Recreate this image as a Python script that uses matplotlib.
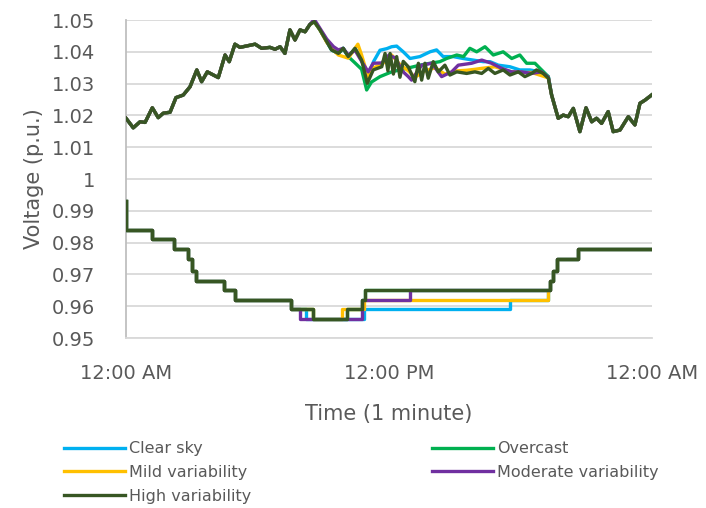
import numpy as np
import matplotlib.pyplot as plt

high_t = [0.00, 0.33, 0.64, 0.87, 1.20, 1.47, 1.70, 2.01, 2.28, 2.61, 2.92, 3.23, 3.45,
          3.71, 4.21, 4.52, 4.71, 4.97, 5.20, 5.89, 6.19, 6.57, 6.80, 7.03, 7.25, 7.48,
          7.71, 7.94, 8.17, 8.39, 8.59, 8.85, 9.16, 9.38, 9.69, 9.91, 10.14, 10.45, 10.75,
          11.01, 11.28, 11.67, 11.82, 11.95, 12.05, 12.20, 12.35, 12.50, 12.65, 12.88,
          13.18, 13.34, 13.49, 13.64, 13.79, 14.02, 14.25, 14.55, 14.78, 15.09, 15.54,
          15.92, 16.23, 16.53, 16.83, 17.21, 17.52, 17.90, 18.20, 18.51, 18.73, 19.04,
          19.27, 19.42, 19.72, 19.95, 20.18, 20.41, 20.71, 20.99, 21.25, 21.47, 21.70,
          22.00, 22.23, 22.54, 22.92, 23.22, 23.45, 23.68, 23.98]
high_v = [1.0191, 1.0161, 1.0180, 1.0178, 1.0224, 1.0193, 1.0207, 1.0210, 1.0256, 1.0264,
          1.0290, 1.0343, 1.0306, 1.0337, 1.0319, 1.0390, 1.0369, 1.0424, 1.0414, 1.0424,
          1.0411, 1.0414, 1.0408, 1.0416, 1.0395, 1.0469, 1.0437, 1.0469, 1.0463, 1.0486,
          1.0495, 1.0469, 1.0432, 1.0406, 1.0395, 1.0411, 1.0385, 1.0411, 1.0374, 1.0301,
          1.0343, 1.0353, 1.0395, 1.0340, 1.0395, 1.0330, 1.0385, 1.0320, 1.0370, 1.0353,
          1.0306, 1.0364, 1.0311, 1.0364, 1.0317, 1.0369, 1.0337, 1.0358, 1.0327, 1.0337,
          1.0332, 1.0337, 1.0332, 1.0348, 1.0332, 1.0343, 1.0327, 1.0337, 1.0322, 1.0332,
          1.0343, 1.0332, 1.0317, 1.0264, 1.0191, 1.0201, 1.0196, 1.0222, 1.0149, 1.0224,
          1.0180, 1.0191, 1.0175, 1.0212, 1.0149, 1.0154, 1.0196, 1.0170, 1.0238, 1.0248,
          1.0264]

# afternoon parts where the other profiles leave the high-variability curve
clear_t = [10.75, 11.00, 11.30, 11.59, 11.90, 12.12, 12.35, 12.65, 12.96, 13.41, 13.87,
           14.17, 14.47, 14.93, 15.38, 15.84, 16.30, 16.61, 16.99, 17.52, 17.97, 18.43,
           18.89, 19.27]
clear_v = [1.0374, 1.0320, 1.0370, 1.0405, 1.0410, 1.0416, 1.0418, 1.0400, 1.0379, 1.0385,
           1.0400, 1.0406, 1.0385, 1.0385, 1.0379, 1.0374, 1.0369, 1.0369, 1.0358, 1.0353,
           1.0343, 1.0343, 1.0337, 1.0322]
over_t = [10.14, 10.45, 10.75, 10.98, 11.20, 11.59, 12.12, 12.81, 13.41, 13.87, 14.32,
          14.63, 15.09, 15.40, 15.69, 16.00, 16.38, 16.76, 17.21, 17.60, 17.97, 18.28,
          18.66, 18.89, 19.27]
over_v = [1.0385, 1.0365, 1.0345, 1.0280, 1.0305, 1.0322, 1.0337, 1.0348, 1.0358, 1.0364,
          1.0369, 1.0379, 1.0390, 1.0385, 1.0411, 1.0400, 1.0416, 1.0390, 1.0400, 1.0379,
          1.0390, 1.0364, 1.0364, 1.0348, 1.0322]
mild_t = [9.16, 9.47, 9.69, 10.14, 10.58, 10.75, 11.05, 11.30, 11.67, 12.12, 12.50, 12.88,
          13.18, 13.64, 14.10, 14.55, 15.09, 15.54, 15.92, 16.23, 16.83, 17.21, 17.52,
          18.05, 18.51, 19.27]
mild_v = [1.0430, 1.0405, 1.0390, 1.0380, 1.0424, 1.0390, 1.0320, 1.0350, 1.0360, 1.0390,
          1.0360, 1.0340, 1.0320, 1.0340, 1.0350, 1.0330, 1.0340, 1.0342, 1.0345, 1.0348,
          1.0353, 1.0345, 1.0338, 1.0335, 1.0335, 1.0318]
mod_t = [8.59, 9.16, 9.47, 9.69, 9.91, 10.14, 10.45, 10.75, 11.05, 11.28, 11.67, 12.00,
         12.30, 12.60, 12.88, 13.03, 13.49, 13.95, 14.40, 14.86, 15.16, 15.77, 16.23,
         16.68, 17.14, 17.60, 18.05, 18.51, 18.96, 19.27]
mod_v = [1.0502, 1.0440, 1.0416, 1.0406, 1.0411, 1.0390, 1.0405, 1.0370, 1.0337, 1.0364,
         1.0365, 1.0390, 1.0380, 1.0340, 1.0322, 1.0311, 1.0358, 1.0364, 1.0322, 1.0337,
         1.0358, 1.0364, 1.0374, 1.0364, 1.0348, 1.0337, 1.0337, 1.0332, 1.0337, 1.0320]

# lower profile, step changes (hour, new level)
low_high_t = [0.00, 0.02, 1.17, 2.19, 2.84, 3.01, 3.21, 4.47, 4.95, 7.52, 8.53, 10.08,
              10.77, 10.90, 19.34, 19.49, 19.65, 20.63, 24.00]
low_high_v = [0.993, 0.984, 0.981, 0.978, 0.975, 0.971, 0.968, 0.965, 0.962, 0.959, 0.956,
              0.959, 0.962, 0.965, 0.968, 0.971, 0.975, 0.978, 0.978]
low_clear_t = [8.21, 10.86, 17.52, 19.25]
low_clear_v = [0.956, 0.959, 0.962, 0.965]
low_mild_t = [8.53, 9.85, 10.84, 19.25]
low_mild_v = [0.956, 0.959, 0.962, 0.965]
low_mod_t = [7.94, 10.77, 12.96]
low_mod_v = [0.956, 0.962, 0.965]

names = ['Clear sky', 'Overcast', 'Mild variability', 'Moderate variability', 'High variability']
colors = ['#00B0F0', '#00B050', '#FFC000', '#7030A0', '#375623']


def splice(bt, bv, ot, ov, step=False):
    bt = np.array(bt)
    bv = np.array(bv)
    head = bt < ot[0]
    if step:
        tail = bt >= 19.34
    else:
        tail = bt > ot[-1]
    t = np.concatenate([bt[head], ot, bt[tail]])
    v = np.concatenate([bv[head], ov, bv[tail]])
    return t, v


upper = [splice(high_t, high_v, clear_t, clear_v),
         splice(high_t, high_v, over_t, over_v),
         splice(high_t, high_v, mild_t, mild_v),
         splice(high_t, high_v, mod_t, mod_v),
         (high_t, high_v)]
lower = [splice(low_high_t, low_high_v, low_clear_t, low_clear_v, step=True),
         (low_high_t, low_high_v),
         splice(low_high_t, low_high_v, low_mild_t, low_mild_v, step=True),
         splice(low_high_t, low_high_v, low_mod_t, low_mod_v, step=True),
         (low_high_t, low_high_v)]

txt = '#595959'
plt.rcParams['font.family'] = 'DejaVu Sans'
fig = plt.figure(figsize=(7.06, 5.08), dpi=100)
ax = fig.add_axes([0.1785, 0.3346, 0.745, 0.626])

lw = 2.4
handles = []
for i in range(5):
    h, = ax.plot(upper[i][0], upper[i][1], color=colors[i], lw=lw,
                 solid_joinstyle='round', label=names[i], zorder=3 + i)
    ax.plot(lower[i][0], lower[i][1], color=colors[i], lw=lw,
            drawstyle='steps-post', zorder=3 + i)
    handles.append(h)

ax.set_xlim(0, 24)
ax.set_ylim(0.95, 1.05)
ax.set_yticks(np.arange(0.95, 1.0501, 0.01))
ax.set_yticklabels(['0.95', '0.96', '0.97', '0.98', '0.99', '1',
                    '1.01', '1.02', '1.03', '1.04', '1.05'])
ax.set_xticks([0, 12, 24])
ax.set_xticklabels(['12:00 AM', '12:00 PM', '12:00 AM'])
ax.grid(axis='y', color='#D9D9D9', lw=1.3)
ax.set_axisbelow(True)
for s in ['top', 'right']:
    ax.spines[s].set_visible(False)
ax.spines['left'].set_color('#BFBFBF')
ax.spines['bottom'].set_color('#D9D9D9')
ax.spines['left'].set_linewidth(1.3)
ax.spines['bottom'].set_linewidth(1.3)
ax.tick_params(length=0, labelsize=14, colors=txt)
ax.tick_params(axis='x', pad=19)
ax.tick_params(axis='y', pad=22)
ax.set_xlabel('Time (1 minute)', fontsize=15, color=txt, labelpad=15)
ax.set_ylabel('Voltage (p.u.)', fontsize=15, color=txt, labelpad=6)

kw = dict(frameon=False, fontsize=11.5, handlelength=3.8, handletextpad=0.25,
          labelspacing=0.55, labelcolor=txt, borderaxespad=0,
          loc='upper left')
leg1 = fig.legend([handles[0], handles[2], handles[4]],
                  [names[0], names[2], names[4]],
                  bbox_to_anchor=(0.082, 0.144), **kw)
leg2 = fig.legend([handles[1], handles[3]], [names[1], names[3]],
                  bbox_to_anchor=(0.603, 0.144), **kw)

fig.savefig('out.png', dpi=100)
